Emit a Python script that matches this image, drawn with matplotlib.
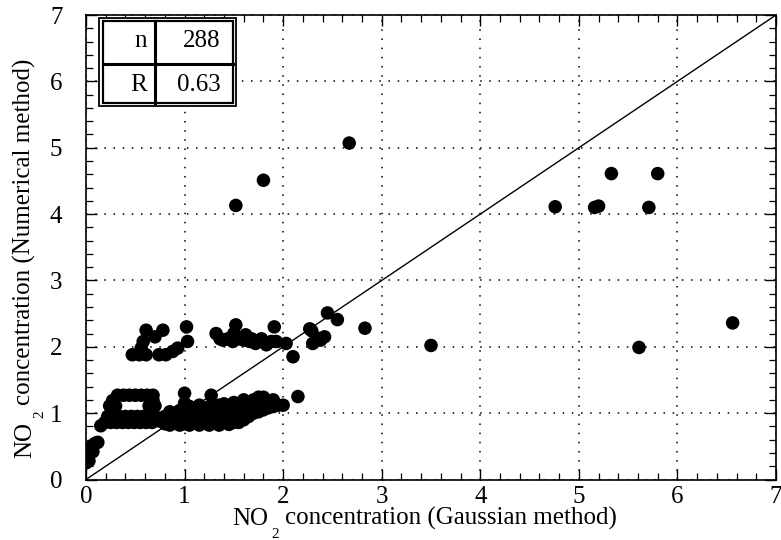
import matplotlib
matplotlib.use("Agg")
import matplotlib.pyplot as plt
from matplotlib.patches import Rectangle
from matplotlib.lines import Line2D
from matplotlib.ticker import MultipleLocator

plt.rcParams['font.family'] = ['Liberation Serif', 'DejaVu Serif']

# ---- data ----
origin_x = [0.00, 0.01, 0.02, 0.03, 0.04, 0.05, 0.06, 0.08, 0.10, 0.12, 0.03, 0.07]
origin_y = [0.25, 0.30, 0.35, 0.28, 0.40, 0.45, 0.50, 0.53, 0.55, 0.56, 0.46, 0.42]

block_x = [0.32, 0.38, 0.44, 0.50, 0.56, 0.62, 0.68,
           0.27, 0.68,
           0.24, 0.30, 0.64, 0.70,
           0.22, 0.28, 0.34, 0.40, 0.46, 0.52, 0.58, 0.64, 0.70,
           0.19, 0.25, 0.31, 0.37, 0.43, 0.49, 0.55, 0.61, 0.67,
           0.15]
block_y = [1.27, 1.27, 1.27, 1.27, 1.27, 1.27, 1.27,
           1.19, 1.19,
           1.11, 1.11, 1.11, 1.11,
           0.95, 0.95, 0.95, 0.95, 0.95, 0.95, 0.95, 0.95, 0.95,
           0.86, 0.86, 0.86, 0.86, 0.86, 0.86, 0.86, 0.86, 0.86,
           0.81]

low_x = [0.75, 0.80, 0.80, 0.85, 0.85, 0.85, 0.90, 0.90,
         0.95, 0.95, 0.95, 1.00, 1.00, 1.00, 1.00, 1.00,
         1.05, 1.05, 1.05, 1.05, 1.10, 1.10, 1.10,
         1.15, 1.15, 1.15, 1.15, 1.20, 1.20, 1.20,
         1.25, 1.25, 1.25, 1.25, 1.27, 1.30, 1.30, 1.30,
         1.35, 1.35, 1.35, 1.35, 1.40, 1.40, 1.40, 1.40,
         1.45, 1.45, 1.45, 1.50, 1.50, 1.50, 1.50,
         1.55, 1.55, 1.55, 1.60, 1.60, 1.60, 1.60,
         1.65, 1.65, 1.65, 1.70, 1.70, 1.70, 1.75, 1.75, 1.75,
         1.80, 1.80, 1.80, 1.85, 1.85, 1.90, 1.90, 1.95, 2.00, 2.15]
low_y = [0.88, 0.84, 0.95, 0.82, 0.92, 1.02, 0.86, 0.97,
         0.82, 0.93, 1.04, 0.84, 0.95, 1.05, 1.15, 1.30,
         0.82, 0.92, 1.00, 1.10, 0.86, 0.97, 1.06,
         0.82, 0.93, 1.02, 1.12, 0.86, 0.96, 1.05,
         0.82, 0.92, 1.00, 1.10, 1.27, 0.86, 0.95, 1.04,
         0.82, 0.92, 1.00, 1.12, 0.86, 0.97, 1.06, 1.14,
         0.83, 0.93, 1.02, 0.86, 0.97, 1.08, 1.16,
         0.86, 0.95, 1.04, 0.90, 0.99, 1.10, 1.20,
         0.95, 1.05, 1.15, 1.00, 1.10, 1.20, 1.02, 1.12, 1.24,
         1.05, 1.15, 1.24, 1.08, 1.18, 1.10, 1.20, 1.12, 1.12, 1.25]

high_x = [0.47, 0.54, 0.61, 0.56, 0.58, 0.61, 0.70, 0.78, 0.81, 0.88,
          0.93, 1.03, 1.02, 0.74,
          1.32, 1.36, 1.39, 1.44, 1.49, 1.52, 1.56, 1.62, 1.66, 1.68,
          1.72, 1.78, 1.83, 1.88, 1.91, 1.93, 2.03, 2.10, 1.50, 1.60]
high_y = [1.88, 1.88, 1.88, 1.98, 2.08, 2.25, 2.15, 2.25, 1.88, 1.93,
          1.98, 2.08, 2.30, 1.88,
          2.20, 2.12, 2.10, 2.12, 2.08, 2.33, 2.12, 2.18, 2.08, 2.12,
          2.05, 2.12, 2.03, 2.08, 2.30, 2.08, 2.05, 1.85, 2.20, 2.10]

mid_x = [2.29, 2.35, 2.42, 2.30, 2.38, 2.27, 2.45, 2.55, 2.83]
mid_y = [2.24, 2.13, 2.15, 2.05, 2.10, 2.27, 2.51, 2.41, 2.28]

out_x = [1.52, 1.80, 2.67, 3.50, 4.76, 5.16, 5.20, 5.33, 5.71, 5.80, 5.61, 6.56]
out_y = [4.13, 4.51, 5.07, 2.02, 4.11, 4.10, 4.12, 4.61, 4.10, 4.61, 1.99, 2.36]

line_x = [0, 7]
line_y = [0, 7]

ticks = [0, 1, 2, 3, 4, 5, 6, 7]
stat_names = ["n", "R"]
stat_values = ["288", "0.63"]

# ---- figure ----
fig = plt.figure(figsize=(7.81, 5.40), dpi=100)
ax = fig.add_axes([86 / 781, 60.5 / 540, 690 / 781, 464.5 / 540])

ax.set_xlim(0, 7)
ax.set_ylim(0, 7)

ax.plot(line_x, line_y, color='black', lw=1.0, zorder=2)

groups = [(origin_x, origin_y), (block_x, block_y), (low_x, low_y),
          (high_x, high_y), (mid_x, mid_y), (out_x, out_y)]
for gx, gy in groups:
    ax.scatter(gx, gy, s=95, color='black', edgecolors='none', zorder=3)

ax.set_xticks(ticks)
ax.set_yticks(ticks)
ax.xaxis.set_minor_locator(MultipleLocator(0.2))
ax.yaxis.set_minor_locator(MultipleLocator(0.2))
ax.tick_params(which='both', direction='in', top=True, right=True, color='black')
ax.tick_params(which='major', length=8, width=1.0, labelsize=18)
ax.tick_params(which='minor', length=5, width=0.9)
ax.tick_params(axis='x', which='major', pad=5)
ax.tick_params(axis='y', which='major', pad=17)

ax.grid(True, which='major', color='black', linestyle=(0, (1, 5)), lw=1.1)
for sp in ax.spines.values():
    sp.set_linewidth(1.2)


# ---- axis labels with a deeply lowered subscript (as in the scan) ----
def sub_label(anchor, rest, rotation):
    # offsets are given in the text's own frame: (along, down) in points
    def off(along, down):
        if rotation == 0:
            return (along, -down)
        return (down, along)
    common = dict(xy=anchor, xycoords='axes fraction',
                  textcoords='offset points', va='baseline',
                  rotation=rotation, rotation_mode='anchor',
                  annotation_clip=False)
    ax.annotate("NO", xytext=off(0, 0), ha='right', fontsize=18, **common)
    ax.annotate("2", xytext=off(2.5, 9.0), ha='left', fontsize=11, **common)
    ax.annotate(rest, xytext=off(12, 0), ha='left', fontsize=18, **common)


sub_label((0.2638, -0.098), "concentration (Gaussian method)", 0)
sub_label((-0.0800, 0.1244), "concentration (Numerical method)", 90)

# ---- stats box (upper left) ----
x0, x1, xc = 0.019, 0.218, 0.100
y0, y1, yr = 0.804, 0.994, 0.895
dx, dy = 0.005, 0.0075
ax.add_patch(Rectangle((x0, y0), x1 - x0, y1 - y0, transform=ax.transAxes,
                       facecolor='white', edgecolor='black', lw=1.3, zorder=5))
ax.add_patch(Rectangle((x0 + dx, y0 + dy), x1 - x0 - 2 * dx, y1 - y0 - 2 * dy,
                       transform=ax.transAxes, facecolor='white',
                       edgecolor='black', lw=1.6, zorder=6))
ax.add_line(Line2D([xc, xc], [y0 + dy, y1 - dy], transform=ax.transAxes,
                   color='black', lw=2.2, zorder=7))
ax.add_line(Line2D([x0 + dx, x1 - dx], [yr, yr], transform=ax.transAxes,
                   color='black', lw=2.2, zorder=7))
row_centers = [(y1 + yr) / 2, (yr + y0) / 2]
for name, val, yc in zip(stat_names, stat_values, row_centers):
    ax.text(xc - 0.012, yc, name, transform=ax.transAxes, ha='right',
            va='center', fontsize=18, zorder=8)
    ax.text(x1 - dx - 0.018, yc, val, transform=ax.transAxes, ha='right',
            va='center', fontsize=18, zorder=8)

fig.savefig("out.png", dpi=100)
